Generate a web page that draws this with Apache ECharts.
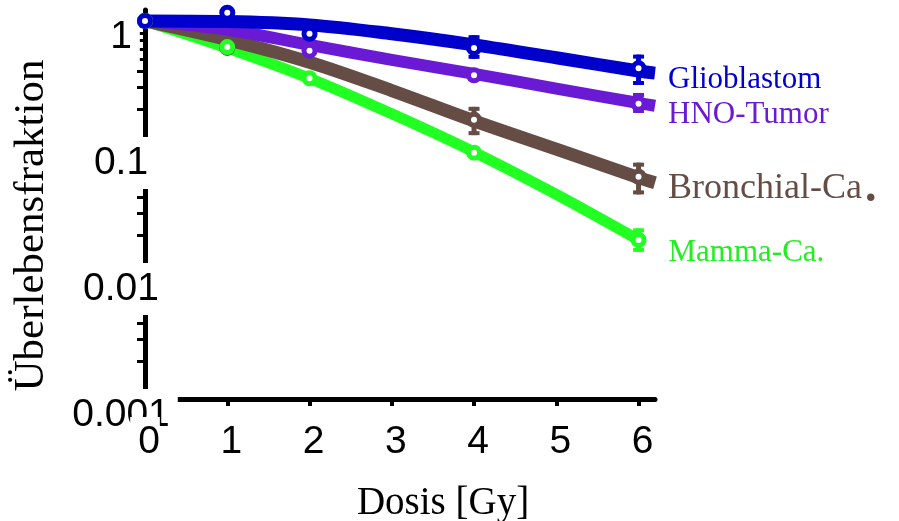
<!DOCTYPE html>
<html>
<head>
<meta charset="utf-8">
<script src="https://cdn.jsdelivr.net/npm/echarts@6/dist/echarts.min.js"></script>
<style>
  html, body { margin: 0; padding: 0; background: #fff; }
  #chart { width: 899px; height: 521px; }
</style>
</head>
<body>
<div id="chart"></div>
<script>
// Survival fraction vs. dose for four tumour cell lines (log scale)

// x axis
const xTickValues = [0, 1, 2, 3, 4, 5, 6];
const xTickLabels = ['0', '1', '2', '3', '4', '5', '6'];
// y axis
const yTickValues = [0.001, 0.01, 0.1, 1];
const yTickLabels = ['0.001', '0.01', '0.1', '1'];
const yMinorTicks = [0.002, 0.003, 0.004, 0.005, 0.006, 0.007, 0.008, 0.009,
                     0.02, 0.03, 0.04, 0.05, 0.06, 0.07, 0.08, 0.09,
                     0.2, 0.3, 0.4, 0.5, 0.6, 0.7, 0.8, 0.9];

const seriesNames = ['Glioblastom', 'HNO-Tumor', 'Bronchial-Ca', 'Mamma-Ca.'];

// measured survival fractions
const glioDose  = [0, 1, 2, 4, 6];
const glioSurv  = [1.0, 1.16, 0.79, 0.61, 0.42];
const hnoDose   = [0, 2, 4, 6];
const hnoSurv   = [1.0, 0.58, 0.37, 0.22];
const bronDose  = [0, 1, 4, 6];
const bronSurv  = [1.0, 0.61, 0.164, 0.058];
const mammaDose = [0, 1, 2, 4, 6];
const mammaSurv = [1.0, 0.62, 0.35, 0.090, 0.0183];

// error bars (low / high)
const glioErrDose  = [4, 6];
const glioErrLo    = [0.50, 0.31];
const glioErrHi    = [0.77, 0.54];
const hnoErrDose   = [6];
const hnoErrLo     = [0.186];
const hnoErrHi     = [0.268];
const bronErrDose  = [4, 6];
const bronErrLo    = [0.124, 0.042];
const bronErrHi    = [0.208, 0.075];
const mammaErrDose = [6];
const mammaErrLo   = [0.0147];
const mammaErrHi   = [0.0226];

// fitted survival curves
const fitDose      = [0, 1, 2, 3, 4, 5, 6, 6.2];
const glioFit      = [1.0, 0.99, 0.93, 0.79, 0.645, 0.51, 0.40, 0.385];
const hnoFit       = [1.0, 0.85, 0.645, 0.49, 0.38, 0.29, 0.223, 0.212];
const bronFit      = [1.0, 0.71, 0.47, 0.28, 0.161, 0.096, 0.057, 0.052];
const mammaFitDose = [0, 1, 2, 3, 4, 5, 6];
const mammaFit     = [1.0, 0.61, 0.35, 0.183, 0.091, 0.042, 0.0183];

const COLORS = {
  glio: '#0000CC',
  hno: '#6A1AD4',
  bron: '#654C44',
  mamma: '#22FF22',
  mammaText: '#22EE22'
};

const zip = (xs, ys) => xs.map((x, i) => [x, ys[i]]);
const zip3 = (xs, a, b) => xs.map((x, i) => [x, a[i], b[i]]);

const SANS = 'Liberation Sans';
const SERIF = 'Liberation Serif';

function fitLine(name, xs, ys, color, width, label) {
  return {
    type: 'line',
    name: name,
    data: zip(xs, ys),
    smooth: 0.35,
    symbol: 'none',
    clip: false,
    lineStyle: { color: color, width: width, cap: 'butt', join: 'round' },
    endLabel: Object.assign({ show: true }, label),
    z: 2
  };
}

function errorBars(xs, lo, hi, color) {
  return {
    type: 'custom',
    data: zip3(xs, lo, hi),
    encode: { x: 0, y: [1, 2] },
    clip: false,
    z: 2,
    renderItem: function (params, api) {
      const x = api.value(0);
      const top = api.coord([x, api.value(2)]);
      const bot = api.coord([x, api.value(1)]);
      const cw = 5.5;
      return {
        type: 'group',
        children: [
          { type: 'line', shape: { x1: top[0], y1: top[1], x2: bot[0], y2: bot[1] },
            style: { stroke: color, lineWidth: 5 } },
          { type: 'line', shape: { x1: top[0] - cw, y1: top[1] + 2, x2: top[0] + cw, y2: top[1] + 2 },
            style: { stroke: color, lineWidth: 4 } },
          { type: 'line', shape: { x1: bot[0] - cw, y1: bot[1] - 2, x2: bot[0] + cw, y2: bot[1] - 2 },
            style: { stroke: color, lineWidth: 4 } }
        ]
      };
    }
  };
}

function points(xs, ys, color) {
  return {
    type: 'scatter',
    data: zip(xs, ys),
    symbol: 'circle',
    symbolSize: 11,
    clip: false,
    itemStyle: { color: '#fff', borderColor: color, borderWidth: 5, opacity: 1 },
    z: 2
  };
}

const labelBase = { fontFamily: SERIF, fontSize: 31 };

const option = {
  animation: false,
  backgroundColor: '#fff',
  grid: { left: 145, right: 244, top: 10, bottom: 122, containLabel: false, outerBoundsMode: 'none' },
  xAxis: [
    {
      type: 'value', min: 0, max: 6.2, z: 0,
      axisLine: { show: true, lineStyle: { color: '#000', width: 5 } },
      axisTick: { show: true, customValues: xTickValues.slice(1), length: 7, inside: false,
                  lineStyle: { color: '#000', width: 4 } },
      axisLabel: { show: false },
      splitLine: { show: false }
    },
    {
      type: 'value', min: 0, max: 6.2, z: 1.5, position: 'bottom',
      axisLine: { show: false },
      axisTick: { show: false },
      splitLine: { show: false },
      axisLabel: {
        show: true,
        customValues: xTickValues,
        formatter: function (v) {
          const i = xTickValues.indexOf(Math.round(v));
          return i >= 0 ? xTickLabels[i] : '';
        },
        margin: 18,
        fontFamily: SANS, fontSize: 39, color: '#000',
        backgroundColor: '#fff',
        padding: [6, 0, 0, 8]
      },
      name: 'Dosis [Gy]',
      nameLocation: 'middle',
      nameGap: 85,
      nameTextStyle: { fontFamily: SERIF, fontSize: 39, color: '#000', padding: [0, 0, 0, 86] }
    }
  ],
  yAxis: {
    type: 'log', min: 0.001, max: 1.22, logBase: 10, z: 1,
    axisLine: { show: true, lineStyle: { color: '#000', width: 5 } },
    axisTick: { show: true, customValues: yMinorTicks, length: 8, inside: false,
                lineStyle: { color: '#000', width: 3 } },
    minorTick: { show: false },
    splitLine: { show: false },
    axisLabel: {
      show: true,
      customValues: yTickValues,
      align: 'center',
      margin: 24,
      formatter: function (v) {
        let best = 0;
        for (let i = 1; i < yTickValues.length; i++) {
          if (Math.abs(Math.log10(yTickValues[i]) - Math.log10(v)) <
              Math.abs(Math.log10(yTickValues[best]) - Math.log10(v))) best = i;
        }
        return '{e| }\n{t|' + yTickLabels[best] + '}';
      },
      rich: {
        e: { height: 32, lineHeight: 32, fontSize: 8 },
        t: { fontFamily: SANS, fontSize: 39, color: '#000', backgroundColor: '#fff',
             height: 52, lineHeight: 52, padding: [0, 8] }
      }
    },
    name: 'Überlebensfraktion',
    nameLocation: 'middle',
    nameRotate: 90,
    nameGap: 83,
    nameTextStyle: { fontFamily: SERIF, fontSize: 43, color: '#000', padding: [0, 42, 0, 0] }
  },
  series: [
    fitLine(seriesNames[3], mammaFitDose, mammaFit, COLORS.mamma, 11,
      Object.assign({}, labelBase, { formatter: seriesNames[3], color: COLORS.mammaText, offset: [22, 12.5] })),
    fitLine(seriesNames[2], fitDose, bronFit, COLORS.bron, 13,
      { formatter: '{a|' + seriesNames[2] + '}{d|.}', offset: [5, 6],
        rich: {
          a: { fontFamily: SERIF, fontSize: 36, color: COLORS.bron },
          d: { fontFamily: SERIF, fontSize: 46, fontWeight: 'bold', color: COLORS.bron, padding: [0, 0, 0, 3] }
        } }),
    fitLine(seriesNames[1], fitDose, hnoFit, COLORS.hno, 12,
      Object.assign({}, labelBase, { formatter: seriesNames[1], color: COLORS.hno, offset: [5, 9.5] })),
    fitLine(seriesNames[0], fitDose, glioFit, COLORS.glio, 13,
      Object.assign({}, labelBase, { formatter: seriesNames[0], color: COLORS.glio, offset: [5, 6.5] })),

    errorBars(mammaErrDose, mammaErrLo, mammaErrHi, COLORS.mamma),
    errorBars(bronErrDose, bronErrLo, bronErrHi, COLORS.bron),
    errorBars(hnoErrDose, hnoErrLo, hnoErrHi, COLORS.hno),
    errorBars(glioErrDose, glioErrLo, glioErrHi, COLORS.glio),

    points(bronDose, bronSurv, COLORS.bron),
    points(hnoDose, hnoSurv, COLORS.hno),
    points(mammaDose, mammaSurv, COLORS.mamma),
    points(glioDose, glioSurv, COLORS.glio)
  ]
};

const chart = echarts.init(document.getElementById('chart'), null, { renderer: 'canvas' });
chart.setOption(option);
</script>
</body>
</html>
